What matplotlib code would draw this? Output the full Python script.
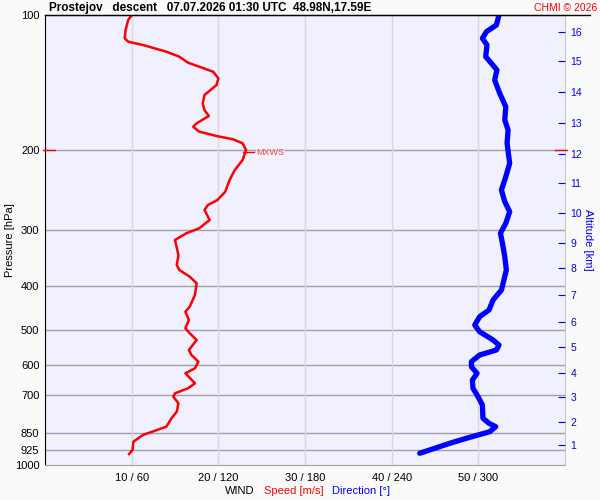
import numpy as np
import matplotlib
matplotlib.use('Agg')
import matplotlib.pyplot as plt
import matplotlib.transforms as mtransforms

plt.rcParams['font.family'] = ['Liberation Sans', 'DejaVu Sans']

# wind speed profile (m/s); heights read as pixel rows of a log axis 100..1000 hPa
spd_y = [15, 20, 30, 38.3, 41.7, 45, 51.7, 56.7, 62.7, 66.7, 71.7, 78.3, 85, 95,
         103.3, 110, 116, 123.3, 126.7, 131.7, 136, 139.3, 143.3, 150, 160, 170,
         180, 191.7, 200, 205, 210, 220, 228.3, 233.3, 240, 255, 265, 270, 276.7,
         283.3, 295, 306.7, 311.7, 320, 328.3, 333.3, 340, 350, 355, 361.7, 368.3,
         373.3, 383.3, 388.3, 393.3, 396.7, 403.3, 411.7, 418.3, 426.7, 430.7, 435,
         441.7, 450, 454]
spd_s = [10.0, 9.6, 9.3, 9.2, 9.6, 11.3, 14.0, 15.5, 16.5, 17.8, 19.4, 20.0, 19.8,
         18.4, 18.2, 18.4, 18.9, 17.5, 17.1, 17.8, 19.8, 21.7, 22.8, 23.2, 22.8,
         21.9, 21.3, 20.8, 19.9, 18.8, 18.4, 19.0, 17.8, 16.3, 15.0, 15.4, 15.2,
         15.5, 16.7, 17.5, 17.3, 16.7, 16.2, 16.6, 16.2, 16.7, 17.5, 16.6, 16.9,
         17.7, 17.3, 16.2, 17.3, 16.5, 15.0, 14.8, 15.4, 15.2, 14.6, 14.0, 12.7,
         11.3, 10.2, 10.1, 9.7]

# wind direction profile (deg)
dir_y = [15, 25, 31.7, 38.3, 45, 56.7, 63.3, 70, 80, 93.3, 106.7, 120, 130, 143.3,
         163.3, 176.7, 190, 201.7, 211.7, 223.3, 233.3, 243.3, 256.7, 270, 290, 300,
         310, 316.7, 325, 331.7, 340, 345, 350, 355, 361.7, 366.7, 373.3, 380, 388.3,
         396.7, 405, 418.3, 423.3, 426.7, 431.7, 438.3, 443.3, 453.3]
dir_d = [314.3, 312.5, 305.6, 302.8, 306.0, 305.1, 309.0, 312.9, 311.3, 314.8, 319.0,
         318.3, 320.6, 319.9, 321.7, 319.0, 316.0, 318.3, 321.7, 319.0, 315.3, 316.7,
         318.3, 319.4, 316.0, 310.2, 307.4, 300.9, 297.5, 300.9, 310.2, 314.3, 312.5,
         300.9, 295.2, 295.2, 299.1, 295.9, 296.3, 299.8, 302.8, 303.2, 307.4, 312.0,
         307.9, 291.7, 280.2, 259.4]

spd_pres = [100 * 10 ** ((y - 15) / 450) for y in spd_y]
dir_pres = [100 * 10 ** ((y - 15) / 450) for y in dir_y]

p_levels = [100, 200, 300, 400, 500, 600, 700, 850, 925, 1000]
grid_levels = [200, 300, 400, 500, 600, 700, 850, 925]
alt_km = list(range(1, 17))
alt_p = [902.8, 804.0, 707.6, 624.0, 548.0, 481.0, 419.0, 365.0, 321.1, 275.7,
         236.4, 203.5, 173.8, 148.3, 126.3, 108.9]
x_ticks = [10, 20, 30, 40, 50]
x_labels = ['10 / 60', '20 / 120', '30 / 180', '40 / 240', '50 / 300']
tropo_p = 200
mxws_p = 202.0
mxws_v = 23.2

fig = plt.figure(figsize=(6, 5), dpi=100, facecolor='#fafafa')
ax = fig.add_axes([45 / 600, 1 - 465 / 500, 520 / 600, 450 / 500])
ax.set_facecolor('#f0f0ff')
ax.set_yscale('log')
ax.set_ylim(1000, 100)
ax.set_xlim(0, 60)

for p in grid_levels:
    ax.axhline(p, color='#a0a0a0', lw=1, zorder=1)
for x in x_ticks:
    ax.axvline(x, color='#d8d8d8', lw=1, zorder=1)

ax.set_yticks(p_levels)
ax.set_yticklabels([str(p) for p in p_levels])
ax.minorticks_off()
ax.tick_params(axis='y', length=0, labelsize=8, pad=4)
ax.set_xticks(x_ticks)
ax.set_xticklabels(x_labels)
ax.tick_params(axis='x', length=0, labelsize=8, pad=6)
ax.set_ylabel('Pressure [hPa]', fontsize=8)
ax.yaxis.set_label_coords(-0.058, 0.5)

ax.spines['left'].set_color('black')
ax.spines['top'].set_color('black')
ax.spines['bottom'].set_color('#a0a0a0')
ax.spines['right'].set_color('#c8c8c8')

ax.plot(spd_s, spd_pres, color='red', lw=1.8, zorder=4)

axd = ax.twiny()
axd.set_xlim(0, 360)
axd.plot(dir_d, dir_pres, color='blue', lw=3.8, solid_capstyle='round', zorder=4)
axd.set_xticks([])
for s in axd.spines.values():
    s.set_visible(False)

axr = ax.twinx()
axr.set_yscale('log')
axr.set_ylim(1000, 100)
axr.minorticks_off()
axr.set_yticks(alt_p)
axr.set_yticklabels([str(k) for k in alt_km])
axr.tick_params(axis='y', direction='in', length=5, color='blue', labelcolor='blue',
                labelsize=7.5, pad=4)
for s in axr.spines.values():
    s.set_visible(False)
axr.set_ylabel('Altitude [km]', color='blue', fontsize=8, rotation=270, labelpad=8)

# tropopause marks and max wind
tr = mtransforms.blended_transform_factory(ax.transAxes, ax.transData)
ax.plot([-0.004, 0.019], [tropo_p, tropo_p], color='red', lw=1, transform=tr,
        clip_on=False, zorder=5)
ax.plot([0.98, 1.003], [tropo_p, tropo_p], color='red', lw=1, transform=tr,
        clip_on=False, zorder=5)
ax.plot([mxws_v - 0.4, mxws_v + 0.9], [mxws_p, mxws_p], color='red', lw=1, zorder=5)
ax.text(mxws_v + 1.2, mxws_p, 'MXWS', color='#ff4040', fontsize=6.5, va='center',
        bbox=dict(facecolor='white', alpha=0.4, edgecolor='none', pad=0.5), zorder=5)

fig.add_artist(plt.Line2D([45 / 600, 590 / 600], [1 - 15 / 500, 1 - 15 / 500],
                          color='black', lw=1))
fig.text(49 / 600, 1 - 8 / 500,
         'Prostejov   descent   07.07.2026 01:30 UTC  48.98N,17.59E',
         fontsize=8.5, fontweight='bold', va='center', ha='left')
fig.text(597 / 600, 1 - 8 / 500, 'CHMI \u00a9 2026', color='red', fontsize=7.5,
         va='center', ha='right')
fig.text(225 / 600, 1 - 491 / 500, 'WIND', fontsize=8, va='center')
fig.text(264 / 600, 1 - 491 / 500, 'Speed [m/s]', color='red', fontsize=8, va='center')
fig.text(332 / 600, 1 - 491 / 500, 'Direction [\u00b0]', color='blue', fontsize=8,
         va='center')

plt.savefig('out.png', dpi=100, facecolor=fig.get_facecolor())
